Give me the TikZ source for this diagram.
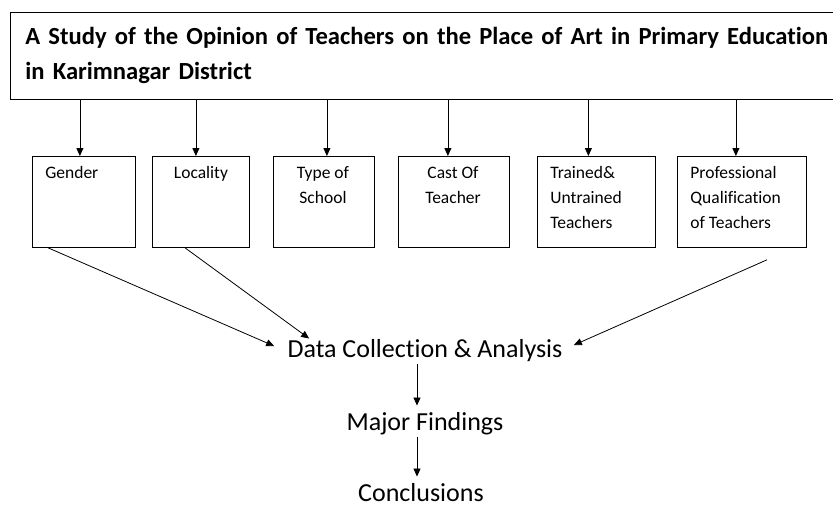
\documentclass[tikz,border=0pt]{standalone}
\usepackage{fontspec}
\setmainfont{Carlito}[Ligatures=NoCommon]
\usetikzlibrary{arrows.meta}

\newcommand\titlestyle{\bfseries\fontsize{24.6}{35}\selectfont}

\begin{document}
\begin{tikzpicture}[x=1pt,y=-1pt,>={Triangle[length=8pt,width=7pt]},line width=0.8pt,
	factor/.style={draw,anchor=north west,minimum width=#1,minimum height=91pt,inner sep=0pt},
	caption/.style={anchor=north west,inner sep=0pt,align=left,font=\fontsize{17.5}{25}\selectfont},
	stage/.style={anchor=base,inner sep=0pt,font=\fontsize{26}{30}\selectfont}]

	\useasboundingbox (0,0) rectangle (833,504);

	% title box, runs off the right edge
	\node[draw,anchor=north west,text width=880pt,inner xsep=15pt,minimum height=87pt,align=left,
		font=\titlestyle] (study) at (10,12)
		{A Study of the Opinion of Teachers on the Place of Art in Primary Education\\in Karimnagar District};

	% the six factors
	\node[factor=103pt] (gender) at (32,156) {};
	\node[factor=97pt] (locality) at (152,156) {};
	\node[factor=101pt] (type) at (273,156) {};
	\node[factor=111pt] (cast) at (398,156) {};
	\node[factor=118pt] (trained) at (537,156) {};
	\node[factor=129pt] (prof) at (677,156) {};

	\node[caption] (genderText) at (45,166) {Gender};
	\node[caption,anchor=north] (localityText) at (201,166) {Locality};
	\node[caption,anchor=north,align=center] (typeText) at (323,166) {Type of\\School};
	\node[caption,anchor=north,align=center] (castText) at (453,166) {Cast Of\\Teacher};
	\node[caption] (trainedText) at (550,166) {Trained\&\\Untrained\\Teachers};
	\node[caption] (profText) at (690,166) {Professional\\Qualification\\of Teachers};

	\foreach \f/\dx in {gender/-4,locality/-5,type/3,cast/-6,trained/-8,prof/-6}
		\draw[->] ([xshift=\dx pt]\f.north |- study.south) -- ([xshift=\dx pt]\f.north);

	% results
	\node[stage] (data) at (425,357) {Data Collection \& Analysis};
	\node[stage] (findings) at (425,430) {Major Findings};
	\node[stage] (conclusions) at (421,501) {Conclusions};

	\draw[->] ([xshift=16pt]gender.south west) -- ([xshift=-13pt,yshift=4pt]data.west);
	\draw[->] ([xshift=33pt]locality.south west) -- ([xshift=22pt]data.north west);
	\draw[->] ([xshift=90pt,yshift=-12pt]prof.south west) -- ([xshift=11pt,yshift=5pt]data.east);
	\draw[->] ([xshift=-8pt,yshift=-2pt]data.south) -- ([xshift=-8pt,yshift=6pt]findings.north);
	\draw[->] ([xshift=-8pt,yshift=-2pt]findings.south) -- ([xshift=-4pt,yshift=6pt]conclusions.north);

\end{tikzpicture}
\end{document}
